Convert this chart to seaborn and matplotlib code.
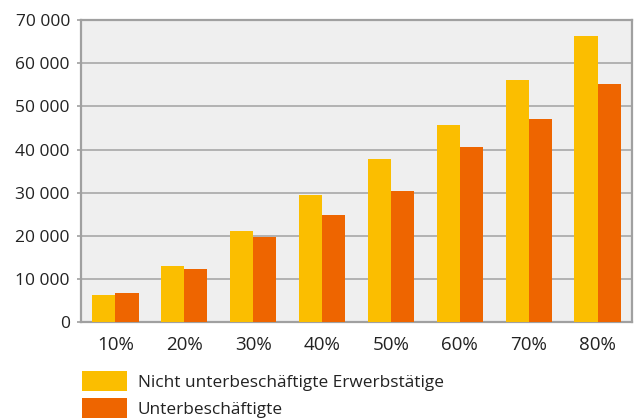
import matplotlib
matplotlib.use("Agg")
import matplotlib.pyplot as plt
from matplotlib.ticker import FuncFormatter, MultipleLocator
import seaborn as sns
import pandas as pd

# Daten
kategorien = ['10%', '20%', '30%', '40%', '50%', '60%', '70%', '80%']
nicht_unterbeschaeftigt = [6300, 13000, 21100, 29400, 37800, 45700, 56100, 66300]
unterbeschaeftigt = [6700, 12300, 19700, 24800, 30400, 40500, 47000, 55200]
serien = ['Nicht unterbeschäftigte Erwerbstätige', 'Unterbeschäftigte']
farben = ['#FBBE00', '#EE6500']

df = pd.DataFrame({
    'kategorie': kategorien * 2,
    'wert': nicht_unterbeschaeftigt + unterbeschaeftigt,
    'serie': [serien[0]] * len(kategorien) + [serien[1]] * len(kategorien),
})

sns.set_style('white')
plt.rcParams['font.family'] = ['Open Sans', 'DejaVu Sans']
plt.rcParams['text.color'] = '#222222'

fig = plt.figure(figsize=(6.38, 4.2), dpi=100)
ax = fig.add_axes([0.127, 0.2333, 0.8636, 0.7187])

sns.barplot(data=df, x='kategorie', y='wert', hue='serie', palette=farben,
            width=0.67, saturation=1, linewidth=0, ax=ax, legend=True, zorder=3)

ax.set_facecolor('#EFEFEF')
ax.set_ylim(0, 70000)
ax.set_xlim(-0.5, len(kategorien) - 0.5)
ax.yaxis.set_major_locator(MultipleLocator(10000))
ax.yaxis.set_major_formatter(FuncFormatter(lambda v, p: f'{int(v):,}'.replace(',', ' ')))
ax.grid(axis='y', color='#A8A8A8', linewidth=1.2, zorder=0)
ax.set_axisbelow(True)
for s in ax.spines.values():
    s.set_color('#A0A0A0')
    s.set_linewidth(1.6)
ax.tick_params(axis='y', length=3, color='#A0A0A0', width=1.2, pad=5,
               labelsize=12.5, labelcolor='#222222', left=True)
ax.tick_params(axis='x', length=0, pad=10, labelsize=13.5, labelcolor='#222222')
ax.set_xlabel('')
ax.set_ylabel('')

# Legende unter dem Diagramm
ax.legend(loc='upper left', bbox_to_anchor=(82 / 638, 1 - 371 / 420),
          bbox_transform=fig.transFigure, frameon=False, fontsize=12.4,
          handlelength=2.6, handleheight=1.41, handletextpad=0.64,
          labelspacing=0.4, borderpad=0, borderaxespad=0)

fig.savefig('out.png', dpi=100)
